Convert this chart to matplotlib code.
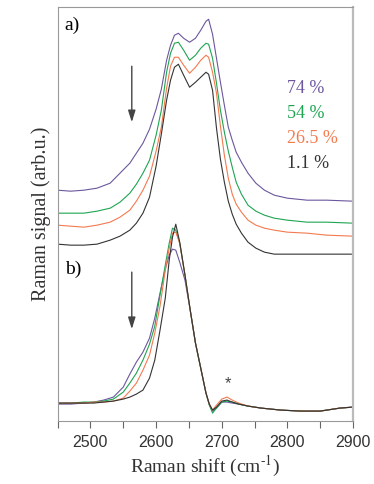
import numpy as np
import matplotlib
matplotlib.use("Agg")
import matplotlib.pyplot as plt

plt.rcParams["font.family"] = ["Liberation Serif", "DejaVu Serif"]
plt.rcParams["mathtext.fontset"] = "stix"

# panel a) spectra (arb. units, stacked)
shift_a = np.array([2450, 2470, 2490, 2510, 2530, 2545, 2560, 2570, 2580, 2590,
                    2600, 2608, 2616, 2622, 2628, 2634, 2642, 2651, 2660, 2668,
                    2676, 2680, 2686, 2692, 2698, 2704, 2710, 2716, 2722, 2730,
                    2740, 2752, 2765, 2780, 2800, 2830, 2860, 2900])
a_74 = np.array([231, 230, 231, 233, 238, 248, 258, 268, 278, 292,
                 312, 332, 361, 376, 386, 388, 383, 379, 383, 391,
                 400, 402, 387, 363, 339, 316, 294, 281, 269, 259,
                 248, 238, 231, 226, 223, 221, 221, 220])
a_54 = np.array([208, 208, 208, 210, 213, 219, 228, 237, 248, 261,
                 286, 311, 349, 368, 378, 379, 371, 361, 366, 373,
                 378, 377, 363, 338, 311, 289, 270, 254, 239, 227,
                 216, 210, 206, 203, 201, 199, 199, 198])
a_265 = np.array([196, 195, 194, 196, 199, 204, 211, 220, 231, 245,
                  270, 294, 333, 355, 364, 364, 356, 348, 354, 361,
                  366, 364, 349, 328, 295, 266, 243, 227, 217, 209,
                  201, 196, 193, 191, 189, 188, 186, 185])
a_11 = np.array([177, 176, 176, 177, 181, 185, 191, 198, 208, 224,
                 255, 287, 321, 341, 354, 357, 346, 334, 339, 344,
                 349, 347, 331, 293, 262, 239, 220, 207, 197, 188,
                 179, 173, 169, 167, 167, 167, 167, 167])

# panel b) spectra
shift_b = np.array([2450, 2470, 2490, 2505, 2520, 2535, 2550, 2560, 2570, 2580,
                    2590, 2598, 2606, 2614, 2620, 2625, 2630, 2636, 2644, 2652,
                    2660, 2668, 2676, 2681, 2686, 2692, 2700, 2708, 2716, 2726,
                    2740, 2760, 2790, 2820, 2850, 2880, 2900])
b_74 = np.array([17, 17, 18, 19, 21, 24, 34, 47, 59, 69,
                 83, 103, 128, 152, 166, 172, 171, 159, 141, 111,
                 78, 53, 28, 17, 10, 13, 19, 19, 18, 17,
                 15, 13, 11, 10, 10, 13, 14])
b_54 = np.array([18, 18, 19, 19, 20, 22, 29, 38, 48, 61,
                 77, 95, 126, 156, 178, 193, 191, 178, 146, 111,
                 78, 53, 28, 16, 8, 13, 19, 20, 19, 17,
                 15, 13, 11, 10, 10, 13, 14])
b_265 = np.array([18, 18, 18, 19, 19, 20, 23, 30, 38, 51,
                  66, 88, 115, 151, 173, 188, 189, 178, 146, 111,
                  78, 53, 28, 17, 11, 16, 22, 24, 21, 18,
                  15, 13, 11, 10, 10, 13, 14])
b_11 = np.array([18, 18, 18, 18, 19, 20, 22, 24, 27, 31,
                 43, 61, 91, 123, 161, 184, 197, 179, 146, 111,
                 78, 53, 28, 17, 11, 14, 20, 21, 19, 17,
                 15, 13, 11, 10, 10, 13, 14])

labels = ["74 %", "54 %", "26.5 %", "1.1 %"]
colors = ["#6c579e", "#1ea552", "#f47a4f", "#333333"]
label_y = [333, 308, 283, 258]


def main() -> None:
    fig = plt.figure(figsize=(3.74, 4.84), dpi=100)
    ax = fig.add_axes([0.154, 0.130, 0.790, 0.855])

    for ys, c in zip([a_74, a_54, a_265, a_11], colors):
        ax.plot(shift_a, ys, color=c, linewidth=0.8)
    for ys, c in zip([b_74, b_54, b_265, b_11], colors):
        ax.plot(shift_b, ys, color=c, linewidth=0.8)

    for lab, c, y in zip(labels, colors, label_y):
        ax.text(2800, y, lab, color=c, fontsize=13, va="center", ha="left")

    ax.text(2461, 396, "a)", fontsize=14, va="center", ha="left")
    ax.text(2461, 152, "b)", fontsize=14, va="center", ha="left")
    ax.text(2710, 37, "*", fontsize=12, va="center", ha="center",
            family=["Liberation Sans"], color="#444444")

    arrow = dict(arrowstyle="-|>,head_length=0.7,head_width=0.22", color="#444444", lw=1.0,
                 shrinkA=0, shrinkB=0)
    ax.annotate("", xy=(2563, 299), xytext=(2563, 355), arrowprops=arrow)
    ax.annotate("", xy=(2563, 92), xytext=(2563, 149), arrowprops=arrow)

    ax.set_xlim(2450, 2900)
    ax.set_ylim(0, 414)
    ax.set_yticks([])
    ax.set_xticks(np.arange(2500, 2901, 100))
    ax.set_xticks(np.arange(2450, 2900, 100), minor=True)
    ax.tick_params(axis="x", which="both", direction="out", length=5, width=0.8,
                   color="#666666", pad=5, labelsize=11.5, labelcolor="#333333")
    for t in ax.get_xticklabels():
        t.set_family("Liberation Sans")

    for side in ["left", "top", "bottom"]:
        ax.spines[side].set_color("#999999")
        ax.spines[side].set_linewidth(0.8)
    ax.spines["right"].set_color("#bbbbbb")
    ax.spines["right"].set_linewidth(1.6)

    ax.set_xlabel(r"Raman shift (cm$^{\text{-1}}$)", fontsize=14, color="#333333", labelpad=3)
    ax.set_ylabel("Raman signal (arb.u.)", fontsize=14.5, color="#333333", labelpad=5)

    fig.savefig("out.png", dpi=100)


if __name__ == "__main__":
    main()
